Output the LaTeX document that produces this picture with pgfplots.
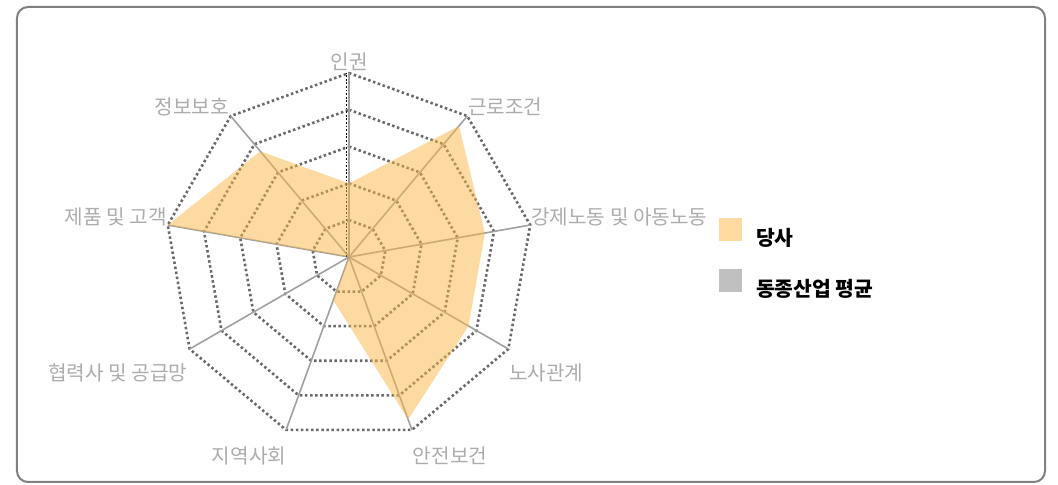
\documentclass[border=0pt]{standalone}
\usepackage{pgfplots}
\pgfplotsset{compat=1.18}
\usepackage{pgfplotstable}
\usepackage{fontspec}
\setmainfont{Noto Sans CJK KR}
\definecolor{lab}{RGB}{172,172,172}
\definecolor{ring}{RGB}{105,105,105}
\definecolor{spoke}{RGB}{160,160,160}
\definecolor{ours}{RGB}{251,181,69}
\definecolor{oursleg}{RGB}{253,218,160}
\definecolor{avg}{RGB}{192,192,192}
\definecolor{framec}{RGB}{128,128,128}

% angle (deg)  value (0-100)
\pgfplotstableread{
ang r
90 40
50 93
10 75
-30 75
-70 94
-110 25
-150 0
-190 100
-230 75
90 40
}\oursdata

\pgfplotstableread{
ang r
90 0
50 0
10 0
-30 0
-70 0
-110 0
-150 0
-190 0
-230 0
90 0
}\avgdata

\begin{document}
\begin{tikzpicture}
\begin{axis}[
  x=1.84bp, y=1.84bp,
  xmin=-105, xmax=105, ymin=-105, ymax=105,
  hide axis, clip=false,
]
% dotted polygon rings
\pgfplotsinvokeforeach{20,40,60,80,100}{
  \addplot[ring, line width=2.6bp, dash pattern=on 2.5bp off 2.6bp, data cs=polar, forget plot]
    coordinates {(90,#1) (50,#1) (10,#1) (-30,#1) (-70,#1) (-110,#1) (-150,#1) (-190,#1) (-230,#1) (90,#1)};
}
% spokes
\pgfplotsinvokeforeach{90,50,10,-30,-70,-110,-150,-190,-230}{
  \addplot[spoke, line width=1.6bp, data cs=polar, forget plot] coordinates {(#1,0) (#1,100)};
}
% dark dotted line beside the first spoke
\addplot[black, line width=1.5bp, dash pattern=on 1.8bp off 1.8bp, forget plot] coordinates {(-1.4,0) (-1.4,100)};
% series
\addplot[draw=none, fill=ours, fill opacity=0.5, data cs=polar] table[x=ang, y=r] {\oursdata};
\addplot[draw=avg, line width=0.1bp, data cs=polar] table[x=ang, y=r] {\avgdata};
\coordinate (O) at (axis cs:0,0);
\end{axis}

\begin{scope}[x=1bp, y=-1bp, shift={(O)}, shift={(-349,-257)}]
  \path (0,0) rectangle (1058,485);
  \draw[framec, line width=2bp, rounded corners=11bp] (17,7) rectangle (1045,482);
  \begin{scope}[every node/.style={text=lab, inner sep=0pt, font=\fontsize{20.2bp}{23bp}\selectfont}]
    \node[anchor=center] at (349,62) {인권};
    \node[anchor=west] at (468,106.5) {근로조건};
    \node[anchor=west] at (531,217) {강제노동 및 아동노동};
    \node[anchor=west] at (509,373) {노사관계};
    \node[anchor=center] at (450,456) {안전보건};
    \node[anchor=center] at (249,456) {지역사회};
    \node[anchor=east] at (187.5,373) {협력사 및 공급망};
    \node[anchor=east] at (167,217) {제품 및 고객};
    \node[anchor=east] at (229,106.5) {정보보호};
  \end{scope}
  \fill[oursleg] (719,218) rectangle (742,241);
  \fill[avg] (719,269) rectangle (742,292);
  \node[anchor=west, inner sep=0pt, font=\fontsize{20.4bp}{23bp}\selectfont\bfseries] at (756,238) {당사};
  \node[anchor=west, inner sep=0pt, font=\fontsize{20.4bp}{23bp}\selectfont\bfseries] at (756,289) {동종산업 평균};
\end{scope}
\end{tikzpicture}
\end{document}
